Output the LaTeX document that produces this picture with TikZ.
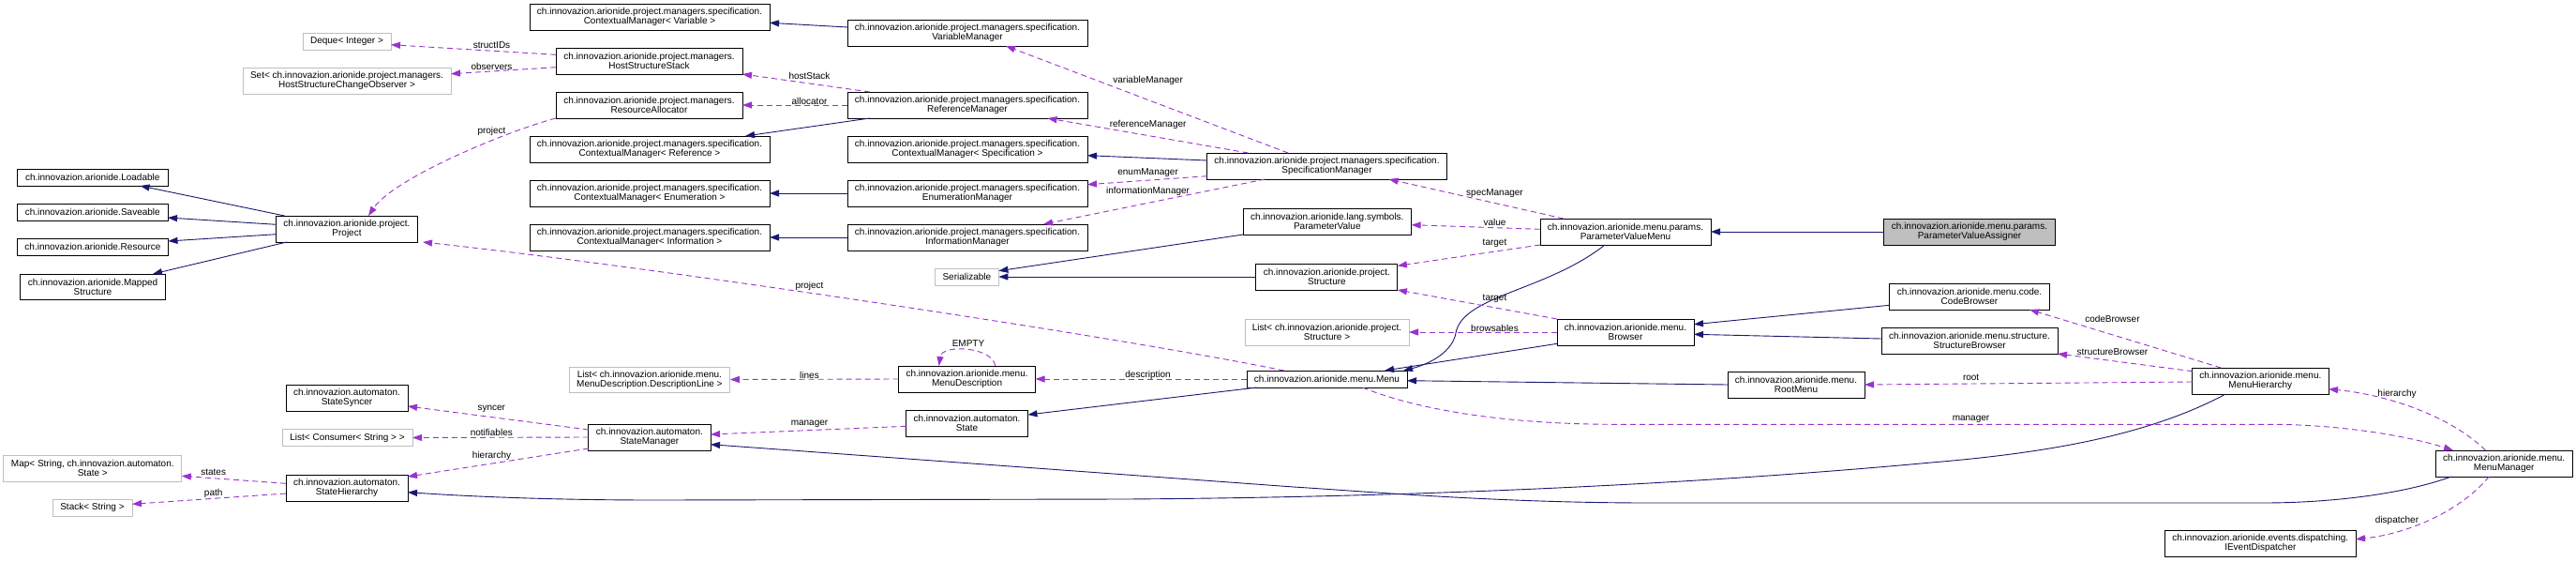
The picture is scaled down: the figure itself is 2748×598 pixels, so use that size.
\documentclass[tikz,border=0pt]{standalone}
\usepackage{fontspec}
\setmainfont{Liberation Sans}
\usetikzlibrary{arrows.meta,calc}
\definecolor{navy}{HTML}{191970}
\definecolor{orchid}{HTML}{9A32CD}
\definecolor{grayb}{HTML}{BFBFBF}
\begin{document}
\begin{tikzpicture}[x=1pt,y=-1pt,
  cls/.style={draw=black, fill=white, line width=0.9pt, inner sep=0pt, outer sep=0pt, align=center, font=\fontsize{10}{10}\selectfont},
  ext/.style={cls, draw=grayb},
  cur/.style={cls, fill=grayb},
  box/.style 2 args={minimum width=#1pt, minimum height=#2pt},
  lbl/.style={inner sep=0pt, font=\fontsize{10}{10}\selectfont},
  inh/.style={draw=navy, line width=0.9pt, -{Triangle[length=10pt,width=7pt]}},
  usage/.style={draw=orchid, line width=0.9pt, dash pattern=on 6pt off 4pt, -{Triangle[length=10pt,width=7pt]}}]
\fill[white] (0,0) rectangle (2748,598);
\useasboundingbox (0,0) rectangle (2748,598);

% ---- nodes ----
\node[cls, box={256}{28}] (cmvar) at (693,18) {ch.innovazion.arionide.project.managers.specification.\\ContextualManager< Variable >};
\node[cls, box={199}{28}] (hss) at (692.5,65) {ch.innovazion.arionide.project.managers.\\HostStructureStack};
\node[ext, box={94}{18}] (deque) at (370,44) {Deque< Integer >};
\node[ext, box={222}{28}] (setobs) at (370,86) {Set< ch.innovazion.arionide.project.managers.\\HostStructureChangeObserver >};
\node[cls, box={199}{28}] (resalloc) at (692.5,112) {ch.innovazion.arionide.project.managers.\\ResourceAllocator};
\node[cls, box={256}{28}] (cmref) at (693,159) {ch.innovazion.arionide.project.managers.specification.\\ContextualManager< Reference >};
\node[cls, box={256}{28}] (cmenum) at (693,206) {ch.innovazion.arionide.project.managers.specification.\\ContextualManager< Enumeration >};
\node[cls, box={256}{28}] (cminfo) at (693,253) {ch.innovazion.arionide.project.managers.specification.\\ContextualManager< Information >};
\node[cls, box={160.5}{18}] (loadable) at (98.75,189) {ch.innovazion.arionide.Loadable};
\node[cls, box={160.5}{18}] (saveable) at (98.75,226) {ch.innovazion.arionide.Saveable};
\node[cls, box={161}{18}] (resource) at (99,263) {ch.innovazion.arionide.Resource};
\node[cls, box={155}{27}] (mapped) at (99,305.5) {ch.innovazion.arionide.Mapped\\Structure};
\node[cls, box={151}{28}] (project) at (370,244) {ch.innovazion.arionide.project.\\Project};
\node[cls, box={130}{28}] (syncer) at (370,424) {ch.innovazion.automaton.\\StateSyncer};
\node[ext, box={139}{18}] (listcons) at (370.5,466.5) {List< Consumer< String > >};
\node[ext, box={190}{28}] (map) at (98.8,499) {Map< String, ch.innovazion.automaton.\\State >};
\node[cls, box={130}{28}] (sh) at (370,520) {ch.innovazion.automaton.\\StateHierarchy};
\node[ext, box={85}{18}] (stack) at (98.5,541) {Stack< String >};
\node[cls, box={130.3}{28}] (statemgr) at (692.9,466) {ch.innovazion.automaton.\\StateManager};
\node[ext, box={171.7}{27}] (listdesc) at (692.9,404.5) {List< ch.innovazion.arionide.menu.\\MenuDescription.DescriptionLine >};
\node[cls, box={256}{28}] (vm) at (1032,35) {ch.innovazion.arionide.project.managers.specification.\\VariableManager};
\node[cls, box={256}{28}] (rm) at (1032,112) {ch.innovazion.arionide.project.managers.specification.\\ReferenceManager};
\node[cls, box={256}{28}] (cmspec) at (1032,159) {ch.innovazion.arionide.project.managers.specification.\\ContextualManager< Specification >};
\node[cls, box={256}{28}] (em) at (1032,206) {ch.innovazion.arionide.project.managers.specification.\\EnumerationManager};
\node[cls, box={256}{28}] (im) at (1032,253) {ch.innovazion.arionide.project.managers.specification.\\InformationManager};
\node[cls, box={256}{28}] (specmgr) at (1415.5,177) {ch.innovazion.arionide.project.managers.specification.\\SpecificationManager};
\node[cls, box={179.5}{28}] (pv) at (1415.8,236) {ch.innovazion.arionide.lang.symbols.\\ParameterValue};
\node[ext, box={68}{18}] (ser) at (1031.4,295) {Serializable};
\node[cls, box={151}{28}] (structure) at (1415.4,295) {ch.innovazion.arionide.project.\\Structure};
\node[cls, box={146}{28}] (md) at (1031.6,404) {ch.innovazion.arionide.menu.\\MenuDescription};
\node[cls, box={130}{28}] (state) at (1031.5,451) {ch.innovazion.automaton.\\State};
\node[cls, box={171}{18}] (menu) at (1415.5,404) {ch.innovazion.arionide.menu.Menu};
\node[ext, box={175}{28}] (liststruct) at (1415.5,354) {List< ch.innovazion.arionide.project.\\Structure >};
\node[cls, box={182}{28}] (pvm) at (1734,247) {ch.innovazion.arionide.menu.params.\\ParameterValueMenu};
\node[cur, box={182.6}{28}] (pva) at (2101,247) {ch.innovazion.arionide.menu.params.\\ParameterValueAssigner};
\node[cls, box={146}{28}] (browser) at (1734,354) {ch.innovazion.arionide.menu.\\Browser};
\node[cls, box={146}{28}] (rootmenu) at (1916,410) {ch.innovazion.arionide.menu.\\RootMenu};
\node[cls, box={171}{28}] (cb) at (2101,316) {ch.innovazion.arionide.menu.code.\\CodeBrowser};
\node[cls, box={188}{28}] (sb) at (2101,363) {ch.innovazion.arionide.menu.structure.\\StructureBrowser};
\node[cls, box={145.4}{28}] (mh) at (2411.3,406) {ch.innovazion.arionide.menu.\\MenuHierarchy};
\node[cls, box={146.4}{28}] (mm) at (2671.2,494) {ch.innovazion.arionide.menu.\\MenuManager};
\node[cls, box={203.4}{28}] (ied) at (2411.3,579) {ch.innovazion.arionide.events.dispatching.\\IEventDispatcher};

% ---- inheritance ----
\draw[inh] ($(vm.west)+(0,-6)$) -- ($(cmvar.east)+(0,6.3)$);
\draw[inh] ($(rm.south west)+(24,0)$) -- ($(cmref.north east)+(-26,0)$);
\draw[inh] ($(specmgr.west)+(0,-6)$) -- ($(cmspec.east)+(0,6.7)$);
\draw[inh] (em.west) -- (cmenum.east);
\draw[inh] (im.west) -- (cminfo.east);
\draw[inh] ($(project.north west)+(9,0)$) -- ($(loadable.south east)+(-29.5,0)$);
\draw[inh] ($(project.west)+(0,-4.7)$) -- ($(saveable.east)+(0,6)$);
\draw[inh] ($(project.west)+(0,5.7)$) -- ($(resource.east)+(0,-6)$);
\draw[inh] ($(project.south west)+(11.4,0)$) -- ($(mapped.north east)+(-13.5,0)$);
\draw[inh] (pv.south west) -- ($(ser.east)+(0,-6.3)$);
\draw[inh] (structure.west) -- (ser.east);
\draw[inh] (pva.west) -- (pvm.east);
\draw[inh] ($(pvm.south)+(-22,0)$) .. controls (1650,310) and (1560,315) .. (1553,355) .. controls (1549.5,375) and (1525,388) .. ($(menu.north east)+(-4,0)$);
\draw[inh] ($(browser.south west)+(0,-1.7)$) -- ($(menu.north east)+(-24,0)$);
\draw[inh] (rootmenu.west) -- ($(menu.east)+(0,1.7)$);
\draw[inh] ($(cb.west)+(0,9.3)$) -- ($(browser.east)+(0,-8.3)$);
\draw[inh] ($(sb.west)+(0,-2)$) -- ($(browser.east)+(0,2.3)$);
\draw[inh] ($(menu.south west)+(10.7,0)$) -- ($(state.east)+(0,-9)$);
\draw[inh] ($(mh.south)+(-37,0)$) .. controls (2290,465) and (2180,483) .. (2060,493) .. controls (1800,517) and (1500,530) .. (1200,532) -- (700,533) .. controls (560,533) and (470,527) .. ($(sh.east)+(0,4.7)$);
\draw[inh] ($(mm.south west)+(17,0)$) .. controls (2560,528) and (2480,536) .. (2414,536) -- (1760,536) .. controls (1600,536) and (1460,524) .. (1380,519) -- ($(statemgr.east)+(0,7.7)$);

% ---- usage ----
\draw[usage] ($(hss.west)+(0,-6.7)$) -- ($(deque.east)+(0,3.7)$);
\node[lbl] (l1) at (524.5,48.3) {structIDs};
\draw[usage] ($(hss.west)+(0,6.7)$) -- ($(setobs.east)+(0,-7.3)$);
\node[lbl] (l2) at (524.5,70.7) {observers};
\draw[usage] (resalloc.south west) .. controls (540,140) and (420,190) .. ($(project.north)+(23,0)$);
\node[lbl] (l3) at (524.5,140) {project};
\draw[usage] ($(rm.north west)+(24,0)$) -- (hss.south east);
\node[lbl] (l4) at (863.5,81.3) {hostStack};
\draw[usage] (rm.west) -- (resalloc.east);
\node[lbl] (l5) at (863.5,107.7) {allocator};
\draw[usage] ($(specmgr.north)+(-41.5,0)$) -- ($(vm.south)+(41,0)$);
\node[lbl] (l6) at (1224.6,85.7) {variableManager};
\draw[usage] ($(specmgr.north west)+(44,0)$) -- ($(rm.south)+(85.5,0)$);
\node[lbl] (l7) at (1224.6,132.7) {referenceManager};
\draw[usage] ($(specmgr.west)+(0,10.7)$) -- ($(em.east)+(0,-9.3)$);
\node[lbl] (l8) at (1224.6,184.3) {enumManager};
\draw[usage] ($(specmgr.south west)+(62,0)$) -- ($(im.north)+(81,0)$);
\node[lbl] (l9) at (1224.6,204.3) {informationManager};
\draw[usage] ($(pvm.north)+(-66,0)$) -- ($(specmgr.south)+(66,0)$);
\node[lbl] (l10) at (1594.5,205.7) {specManager};
\draw[usage] ($(pvm.west)+(0,-2.7)$) -- ($(pv.east)+(0,3.7)$);
\node[lbl] (l11) at (1594.5,237.3) {value};
\draw[usage] (pvm.south west) -- ($(structure.east)+(0,-11.7)$);
\node[lbl] (l12) at (1594.5,259.3) {target};
\draw[usage] (browser.north west) -- (structure.south east);
\node[lbl] (l13) at (1594.5,318.7) {target};
\draw[usage] (browser.west) -- (liststruct.east);
\node[lbl] (l14) at (1594.5,349.7) {browsables};
\draw[usage] ($(menu.north west)+(39.7,0)$) .. controls (1200,360) and (700,285) .. ($(project.south east)+(5.5,0)$);
\node[lbl] (l15) at (863.5,305.3) {project};
\draw[usage] (menu.west) -- (md.east);
\node[lbl] (l16) at (1224.6,399.7) {description};
\draw[usage] (md.west) -- (listdesc.east);
\node[lbl] (l17) at (863.5,399.7) {lines};
\draw[usage] ($(md.north)+(30,0)$) .. controls (1060,370) and (1005,366) .. ($(md.north)+(-30,0)$);
\node[lbl] (l18) at (1033,366.3) {EMPTY};
\draw[usage] ($(state.west)+(0,3.3)$) -- ($(statemgr.east)+(0,-3)$);
\node[lbl] (l19) at (863.5,452.3) {manager};
\draw[usage] ($(statemgr.west)+(0,-8)$) -- ($(syncer.east)+(0,9)$);
\node[lbl] (l20) at (524.3,436.3) {syncer};
\draw[usage] (statemgr.west) -- (listcons.east);
\node[lbl] (l21) at (524.3,461.3) {notifiables};
\draw[usage] ($(statemgr.west)+(0,12)$) -- ($(sh.east)+(0,-12)$);
\node[lbl] (l22) at (524.5,486.3) {hierarchy};
\draw[usage] ($(sh.west)+(0,-4.7)$) -- ($(map.east)+(0,8.3)$);
\node[lbl] (l23) at (227.7,503) {states};
\draw[usage] ($(sh.west)+(0,6)$) -- ($(stack.east)+(0,-3.7)$);
\node[lbl] (l24) at (227.7,525.7) {path};
\draw[usage] ($(mh.north)+(-42,0)$) -- ($(cb.south east)+(-21.4,0)$);
\node[lbl] (l25) at (2253.4,339.7) {codeBrowser};
\draw[usage] ($(mh.west)+(0,-10.3)$) -- (sb.south east);
\node[lbl] (l26) at (2253.4,375.3) {structureBrowser};
\draw[usage] ($(mh.west)+(0,1)$) -- (rootmenu.east);
\node[lbl] (l27) at (2102.6,402.3) {root};
\draw[usage] ($(mm.north)+(-19.6,0)$) .. controls (2610,440) and (2540,420) .. ($(mh.east)+(0,8.7)$);
\node[lbl] (l28) at (2557,419.7) {hierarchy};
\draw[usage] ($(mm.south)+(-16,0)$) .. controls (2620,550) and (2560,570) .. ($(ied.east)+(0,-4.3)$);
\node[lbl] (l29) at (2557,555.3) {dispatcher};
\draw[usage] ($(menu.south)+(38,0)$) .. controls (1520,440) and (1620,452) .. (1720,452.3) -- (2427,452.3) .. controls (2500,453) and (2570,465) .. ($(mm.north west)+(19,0)$);
\node[lbl] (l30) at (2102.5,447.3) {manager};
\end{tikzpicture}
\end{document}
